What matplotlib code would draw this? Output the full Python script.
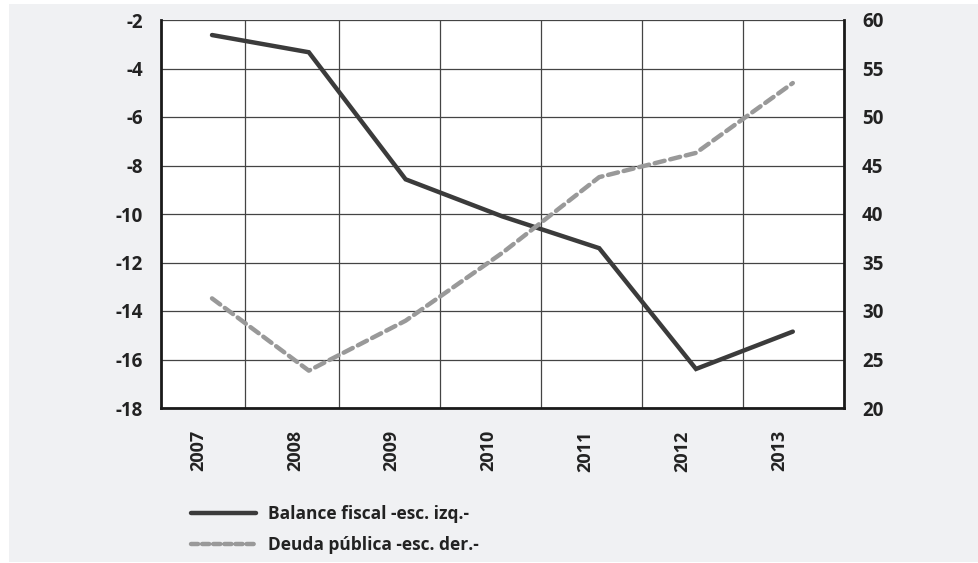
import matplotlib
matplotlib.use("Agg")
import matplotlib.pyplot as plt
from matplotlib.patches import Rectangle
from matplotlib.lines import Line2D
from matplotlib.transforms import ScaledTranslation

years = ["2007", "2008", "2009", "2010", "2011", "2012", "2013"]
balance_fiscal = [-2.62, -3.33, -8.57, -10.1, -11.41, -16.39, -14.85]
deuda_publica = [31.3, 23.85, 29.0, 36.0, 43.8, 46.3, 53.5]
left_ticks = [-2, -4, -6, -8, -10, -12, -14, -16, -18]
right_ticks = [60, 55, 50, 45, 40, 35, 30, 25, 20]
label_balance = "Balance fiscal -esc. izq.-"
label_deuda = "Deuda pública -esc. der.-"

plt.rcParams['font.family'] = ['Open Sans', 'DejaVu Sans']

W, H = 979, 563
fig = plt.figure(figsize=(W / 100, H / 100), dpi=100)
fig.patch.set_facecolor("white")
fig.patches.append(Rectangle((9 / W, 1 / H), (978 - 9) / W, (562 - 4) / H,
                             transform=fig.transFigure, facecolor="#f0f1f3",
                             edgecolor="none", zorder=-10))

ax = fig.add_axes([161 / W, (H - 408) / H, (844 - 161) / W, (408 - 20) / H])
ax.set_facecolor("white")
x = list(range(len(years)))

ax.set_xlim(-0.527, 6.529)
ax.set_ylim(-18, -2)
ax.set_yticks(left_ticks)
ax.set_yticklabels([str(v) for v in left_ticks])
ax.set_xticks(x)
ax.set_xticklabels(years, rotation=90, va="top", ha="center")
ax.set_xticks([0.34, 1.31, 2.36, 3.40, 4.44, 5.49], minor=True)

ax.tick_params(axis="both", which="both", length=0)
ax.tick_params(axis="y", pad=13, labelsize=13.5, labelcolor="#222222")
ax.tick_params(axis="x", pad=16, labelsize=13, labelcolor="#222222")
for lab in ax.get_yticklabels() + ax.get_xticklabels():
    lab.set_fontweight("bold")
for lab in ax.get_xticklabels():
    lab.set_transform(lab.get_transform() + ScaledTranslation(-14 / 100, 0, fig.dpi_scale_trans))

ax.grid(True, axis="y", which="major", color="#444444", lw=0.9)
ax.grid(True, axis="x", which="minor", color="#444444", lw=0.9)
ax.grid(False, axis="x", which="major")
ax.set_axisbelow(True)

for s in ["left", "bottom"]:
    ax.spines[s].set_linewidth(2.0)
    ax.spines[s].set_color("#1a1a1a")
ax.spines["top"].set_visible(False)
ax.spines["right"].set_visible(False)

ax.plot(x, balance_fiscal, color="#3b3b3b", lw=3.2, solid_capstyle="round",
        solid_joinstyle="miter", zorder=5)

ax2 = ax.twinx()
ax2.set_ylim(20, 60)
ax2.set_yticks(right_ticks)
ax2.set_yticklabels([str(v) for v in right_ticks])
ax2.tick_params(axis="y", length=0, pad=13, labelsize=13.5, labelcolor="#222222")
for lab in ax2.get_yticklabels():
    lab.set_fontweight("bold")
for s in ["left", "top", "bottom"]:
    ax2.spines[s].set_visible(False)
ax2.spines["right"].set_linewidth(2.0)
ax2.spines["right"].set_color("#1a1a1a")

ax2.plot(x, deuda_publica, color="#999999", lw=3.2, ls=(0, (2.3, 1.3)),
         dash_capstyle="round", zorder=4)

handles = [Line2D([], [], color="#3b3b3b", lw=3.2, solid_capstyle="round"),
           Line2D([], [], color="#999999", lw=3.2, ls=(0, (1.6, 0.9)), dash_capstyle="round")]
fig.legend(handles, [label_balance, label_deuda], loc="upper left",
           bbox_to_anchor=(191 / W, 1 - 505 / H), frameon=False,
           borderpad=0, borderaxespad=0,
           handlelength=3.75, handletextpad=0.7, labelspacing=0.76,
           prop={"size": 12.5, "weight": "bold"}, labelcolor="#222222")

fig.savefig("out.png", dpi=100, facecolor=fig.get_facecolor())
